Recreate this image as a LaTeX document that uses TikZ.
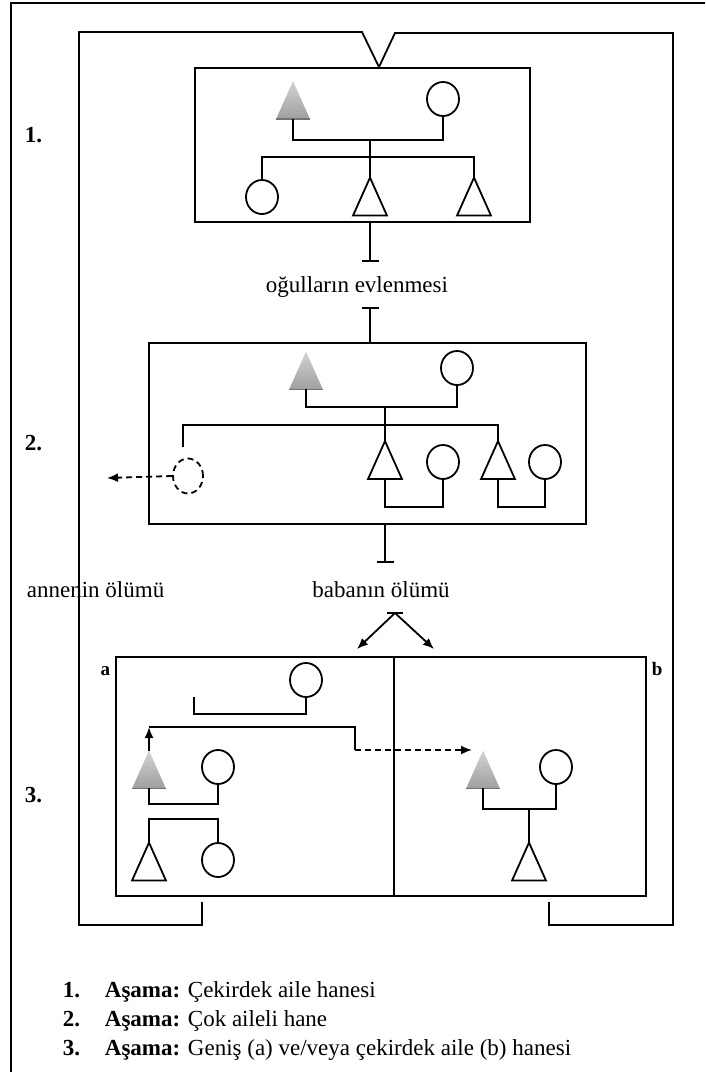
\documentclass[tikz,border=0pt]{standalone}
\usepackage{fontspec}
\setmainfont{Liberation Serif}
\usetikzlibrary{arrows.meta,shapes.geometric}
\newcommand\myfs{\fontsize{23}{27}\selectfont}
\newcommand\persontri[2]{\node[trinode] (#1) at (#2) {};
  \draw (#1.south west) -- (#1.north) -- (#1.south east) -- cycle;}
\newcommand\greytri[2]{\node[trinode] (#1) at (#2) {};
  \shade[top color=gray!35, bottom color=gray!75] (#1.south west) -- (#1.north) -- (#1.south east) -- cycle;
  \draw[gray!90!black, line width=1.4pt] (#1.south west) -- (#1.south east);}
\begin{document}
\begin{tikzpicture}[x=1pt,y=-1pt, line width=1.8pt,
  box/.style={draw, inner sep=0pt, line width=2pt, anchor=north west},
  circ/.style={draw, ellipse, minimum width=32pt, minimum height=34pt, inner sep=0pt},
  dcirc/.style={circ, dash pattern=on 6pt off 4pt, minimum width=30pt, minimum height=35pt},
  trinode/.style={inner sep=0pt, minimum width=32pt, minimum height=36pt},
  lbl/.style={font=\myfs, inner sep=0pt, anchor=base},
  lblw/.style={lbl, anchor=base west},
  dsh/.style={dash pattern=on 6pt off 4pt},
  tip/.style={-{Latex[length=11pt,width=9pt]}},
  barend/.style={-{Bar[width=17pt]}},
  barstart/.style={{Bar[width=17pt]}-}
]
\useasboundingbox (0,0) rectangle (705,1072);
% outer frame
\draw[line width=1.8pt] (11,1072) -- (11,3) -- (705,3);

% ---------- stage 1 ----------
\node[box, minimum width=335pt, minimum height=154pt] (B1) at (194,67) {};
\greytri{F1}{293,100}
\node[circ] (M1) at (443,99) {};
\node[circ] (S1) at (262,197) {};
\persontri{S2}{370,196.5}
\persontri{S3}{474,196.5}
\coordinate (m1) at (370,140);
\draw (F1.south) -- (F1.south |- m1) -| (M1.south);
\draw (m1) -- (S2.north);
\draw (S1.north) |- (S3.north |- 0,157) -- (S3.north);

% transition 1 -> 2
\coordinate (e1) at (370,262);
\coordinate (e2) at (370,307);
\draw[barend] (e1 |- B1.south) -- (e1);
\node[lbl] (t1) at (357,292) {oğulların evlenmesi};
\node[box, minimum width=437pt, minimum height=181pt] (B2) at (148,342) {};
\draw[barstart] (e2) -- (e2 |- B2.north);

% ---------- stage 2 ----------
\greytri{F2}{306,370.5}
\node[circ] (M2) at (457,368) {};
\node[dcirc] (X) at (188,476) {};
\persontri{A}{385,460}
\node[circ] (Bc) at (443,462) {};
\persontri{C}{498,460}
\node[circ] (D) at (545,462) {};
\coordinate (m2) at (385,407);
\coordinate (xd) at (183,447);
\coordinate (xa) at (107,478);
\draw (F2.south) -- (F2.south |- m2) -| (M2.south);
\draw (m2) -- (A.north);
\draw (xd) |- (C.north |- 0,425) -- (C.north);
\draw (A.south) -- (A.south |- 0,507) -| (Bc.south);
\draw (C.south) -- (C.south |- 0,507) -| (D.south);
\draw[dsh, tip] (X.west) -- (xa);

% transition 2 -> 3
\coordinate (e3) at (385,563);
\draw[barend] (e3 |- B2.south) -- (e3);
\node[lbl] (t2) at (381,597) {babanın ölümü};
\node[lblw] (t3) at (26,597) {annenin ölümü};
\coordinate (ap) at (395,613);
\coordinate (ar1) at (357,649);
\coordinate (ar2) at (434,649);
\draw (387,613) -- (403,613);
\draw[tip] (ap) -- (ar1);
\draw[tip] (ap) -- (ar2);

% ---------- stage 3 ----------
\node[box, minimum width=530pt, minimum height=239pt] (B3) at (115,656) {};
\draw[line width=2pt] (394,656) -- (394,895);
\node[lbl, font=\fontsize{19}{22}\bfseries, anchor=base east] (la) at (111,675) {a};
\node[lbl, font=\fontsize{19}{22}\bfseries, anchor=base west] (lb) at (651,675) {b};

% 3a
\node[circ] (Ga) at (306,680) {};
\coordinate (ga) at (194,697);
\draw (Ga.south) -- (Ga.south |- 0,714) -| (ga);
\greytri{Gt}{149,769.5}
\node[circ] (Ca) at (218,767) {};
\coordinate (up) at (149,727);
\coordinate (turn) at (355,750);
\coordinate (dend) at (472,750);
\draw[tip] (Gt.north) -- (up);
\draw (up) -| (turn);
\draw[dsh, tip] (turn) -- (dend);
\draw (Gt.south) -- (Gt.south |- 0,804) -| (Ca.south);
\persontri{Ta}{149,861.5}
\node[circ] (Cb) at (218,860) {};
\draw (Ta.north) |- (Cb.north |- 0,819) -- (Cb.north);

% 3b
\greytri{Gb}{483,769.5}
\node[circ] (Mb) at (556,767) {};
\persontri{Tb}{529,861.5}
\coordinate (m3) at (529,809);
\draw (Gb.south) -- (Gb.south |- m3) -| (Mb.south);
\draw (m3) -- (Tb.north);

% loop
\coordinate (vb) at (379,67);
\draw (202,902) -- (202,925) -- (79,925) -- (79,32) -- (362,32) -- (vb) -- (395,33) -- (673,33) -- (673,925) -- (549,925) -- (549,902);

% stage numbers
\node[lblw, font=\myfs\bfseries] (n1) at (24,142) {1.};
\node[lblw, font=\myfs\bfseries] (n2) at (24,450) {2.};
\node[lblw, font=\myfs\bfseries] (n3) at (24,802) {3.};

% legend
\node[lblw, font=\myfs\bfseries] (k1) at (62,997) {1.};
\node[lblw] (l1) at (104,997) {\textbf{Aşama:} Çekirdek aile hanesi};
\node[lblw, font=\myfs\bfseries] (k2) at (62,1026) {2.};
\node[lblw] (l2) at (104,1026) {\textbf{Aşama:} Çok aileli hane};
\node[lblw, font=\myfs\bfseries] (k3) at (62,1055) {3.};
\node[lblw] (l3) at (104,1055) {\textbf{Aşama:} Geniş (a) ve/veya çekirdek aile (b) hanesi};
\end{tikzpicture}
\end{document}
